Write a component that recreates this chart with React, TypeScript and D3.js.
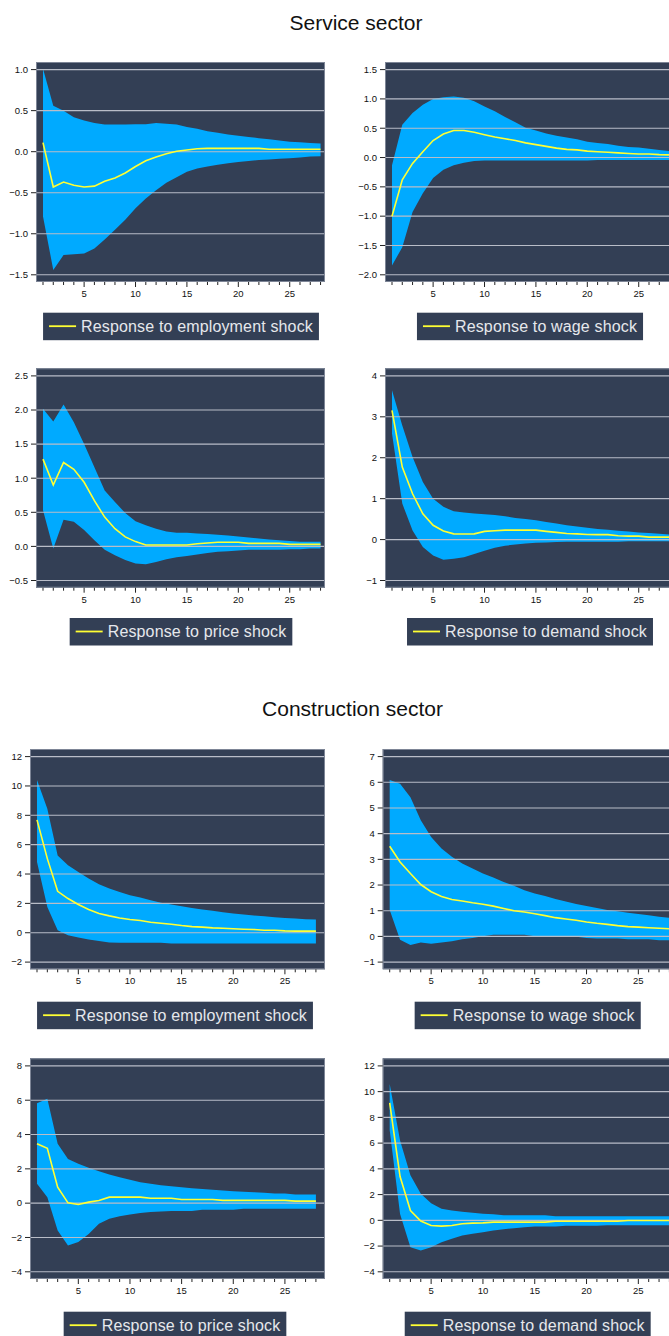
import React, { useEffect, useRef } from 'react';
import * as d3 from 'd3';

const periods = [1,2,3,4,5,6,7,8,9,10,11,12,13,14,15,16,17,18,19,20,21,22,23,24,25,26,27,28];
const xTickLabels = [5, 10, 15, 20, 25];

const sectionTitles = ['Service sector', 'Construction sector'];
const legendLabels = [
  'Response to employment shock',
  'Response to wage shock',
  'Response to price shock',
  'Response to demand shock',
];

// Service sector
const svcEmpMid = [0.11,-0.43,-0.37,-0.41,-0.43,-0.42,-0.36,-0.32,-0.26,-0.18,-0.11,-0.065,-0.025,0.005,0.02,0.035,0.04,0.04,0.04,0.04,0.04,0.04,0.03,0.03,0.03,0.03,0.03,0.03];
const svcEmpHi = [1.01,0.56,0.50,0.42,0.38,0.35,0.33,0.33,0.33,0.335,0.335,0.35,0.34,0.33,0.30,0.28,0.25,0.23,0.21,0.195,0.18,0.165,0.15,0.135,0.12,0.115,0.105,0.10];
const svcEmpLo = [-0.79,-1.44,-1.26,-1.25,-1.24,-1.18,-1.07,-0.95,-0.83,-0.69,-0.57,-0.47,-0.38,-0.31,-0.245,-0.205,-0.18,-0.16,-0.14,-0.125,-0.115,-0.10,-0.095,-0.085,-0.08,-0.07,-0.06,-0.055];
const svcEmpTicks = [-1.5,-1.0,-0.5,0.0,0.5,1.0];

const svcWageMid = [-1.0,-0.38,-0.10,0.10,0.29,0.40,0.46,0.46,0.43,0.39,0.35,0.32,0.29,0.25,0.22,0.19,0.16,0.14,0.13,0.11,0.10,0.09,0.08,0.07,0.06,0.06,0.05,0.045];
const svcWageHi = [-0.13,0.56,0.76,0.90,1.0,1.03,1.04,1.02,0.96,0.87,0.79,0.69,0.60,0.51,0.46,0.41,0.37,0.34,0.31,0.27,0.25,0.23,0.20,0.18,0.17,0.15,0.13,0.11];
const svcWageLo = [-1.84,-1.53,-0.93,-0.61,-0.35,-0.21,-0.13,-0.09,-0.06,-0.05,-0.05,-0.05,-0.05,-0.05,-0.05,-0.05,-0.05,-0.05,-0.05,-0.05,-0.04,-0.04,-0.04,-0.04,-0.04,-0.04,-0.04,-0.04];
const svcWageTicks = [-2.0,-1.5,-1.0,-0.5,0.0,0.5,1.0,1.5];

const svcPriceMid = [1.28,0.90,1.23,1.13,0.94,0.67,0.43,0.26,0.14,0.07,0.02,0.02,0.02,0.02,0.02,0.04,0.05,0.06,0.06,0.06,0.045,0.045,0.045,0.045,0.03,0.03,0.03,0.03];
const svcPriceHi = [2.02,1.83,2.08,1.82,1.50,1.16,0.82,0.65,0.49,0.37,0.31,0.26,0.22,0.20,0.20,0.19,0.18,0.17,0.16,0.145,0.13,0.115,0.10,0.09,0.08,0.07,0.07,0.07];
const svcPriceLo = [0.53,-0.03,0.39,0.36,0.24,0.09,-0.05,-0.13,-0.20,-0.25,-0.26,-0.23,-0.19,-0.16,-0.14,-0.12,-0.095,-0.08,-0.07,-0.06,-0.05,-0.05,-0.05,-0.05,-0.04,-0.04,-0.03,-0.03];
const svcPriceTicks = [-0.5,0.0,0.5,1.0,1.5,2.0,2.5];

const svcDemMid = [3.16,1.77,1.12,0.63,0.35,0.21,0.14,0.135,0.14,0.20,0.215,0.23,0.23,0.23,0.23,0.20,0.175,0.15,0.14,0.125,0.12,0.12,0.095,0.085,0.085,0.06,0.06,0.06];
const svcDemHi = [3.65,2.79,2.02,1.41,1.0,0.80,0.69,0.66,0.64,0.62,0.60,0.57,0.53,0.50,0.47,0.43,0.39,0.35,0.32,0.29,0.26,0.24,0.215,0.20,0.175,0.16,0.14,0.125];
const svcDemLo = [2.59,0.88,0.22,-0.18,-0.39,-0.49,-0.47,-0.43,-0.35,-0.27,-0.20,-0.15,-0.12,-0.095,-0.08,-0.07,-0.06,-0.05,-0.05,-0.05,-0.05,-0.05,-0.05,-0.04,-0.04,-0.04,-0.04,-0.04];
const svcDemTicks = [-1,0,1,2,3,4];

// Construction sector
const conEmpMid = [7.69,5.05,2.82,2.33,1.92,1.58,1.31,1.15,1.01,0.90,0.83,0.72,0.65,0.58,0.49,0.42,0.38,0.33,0.31,0.27,0.24,0.22,0.17,0.17,0.13,0.11,0.11,0.11];
const conEmpHi = [10.41,8.44,5.27,4.59,4.14,3.69,3.30,3.01,2.78,2.55,2.40,2.21,2.05,1.92,1.81,1.69,1.58,1.49,1.40,1.31,1.24,1.17,1.13,1.06,1.01,0.97,0.92,0.90];
const conEmpLo = [4.82,1.76,0.17,-0.17,-0.32,-0.46,-0.57,-0.66,-0.68,-0.68,-0.68,-0.68,-0.68,-0.73,-0.73,-0.73,-0.73,-0.73,-0.73,-0.73,-0.73,-0.73,-0.73,-0.73,-0.73,-0.73,-0.73,-0.73];
const conEmpTicks = [-2,0,2,4,6,8,10,12];

const conWageMid = [3.51,2.90,2.45,2.02,1.74,1.55,1.44,1.38,1.31,1.25,1.18,1.09,1.00,0.95,0.88,0.81,0.73,0.68,0.63,0.56,0.51,0.47,0.42,0.38,0.36,0.34,0.32,0.30];
const conWageHi = [6.09,5.94,5.42,4.52,3.87,3.42,3.10,2.84,2.64,2.45,2.29,2.12,1.97,1.80,1.67,1.57,1.46,1.36,1.26,1.18,1.11,1.03,0.98,0.92,0.87,0.82,0.77,0.72];
const conWageLo = [1.03,-0.13,-0.33,-0.24,-0.29,-0.24,-0.19,-0.11,-0.06,0.01,0.06,0.06,0.06,0.06,0.01,0.01,0.01,0.01,-0.01,-0.06,-0.08,-0.08,-0.08,-0.11,-0.11,-0.11,-0.15,-0.15];
const conWageTicks = [-1,0,1,2,3,4,5,6,7];

const conPriceMid = [3.46,3.20,0.93,0.02,-0.08,0.06,0.16,0.35,0.35,0.35,0.35,0.29,0.29,0.29,0.21,0.21,0.21,0.21,0.16,0.16,0.16,0.16,0.16,0.16,0.16,0.12,0.12,0.12];
const conPriceHi = [5.83,6.08,3.46,2.58,2.29,2.06,1.86,1.67,1.51,1.36,1.22,1.13,1.05,0.99,0.93,0.87,0.83,0.78,0.74,0.70,0.66,0.64,0.60,0.56,0.56,0.50,0.50,0.50];
const conPriceLo = [1.13,0.35,-1.59,-2.47,-2.27,-1.79,-1.20,-0.91,-0.76,-0.66,-0.58,-0.52,-0.49,-0.45,-0.45,-0.45,-0.39,-0.39,-0.39,-0.39,-0.33,-0.33,-0.33,-0.33,-0.33,-0.33,-0.33,-0.33];
const conPriceTicks = [-4,-2,0,2,4,6,8];

const conDemMid = [9.13,3.4,0.76,-0.06,-0.40,-0.45,-0.40,-0.27,-0.22,-0.20,-0.14,-0.14,-0.14,-0.14,-0.14,-0.14,-0.07,-0.07,-0.07,-0.07,-0.07,-0.07,-0.07,-0.01,-0.01,-0.01,-0.01,-0.01];
const conDemHi = [10.6,6.2,3.5,2.06,1.33,0.89,0.76,0.66,0.58,0.51,0.48,0.40,0.40,0.40,0.40,0.40,0.32,0.32,0.32,0.32,0.32,0.32,0.32,0.32,0.32,0.32,0.32,0.32];
const conDemLo = [7.0,0.5,-2.09,-2.34,-2.09,-1.70,-1.44,-1.18,-1.05,-0.92,-0.79,-0.69,-0.61,-0.53,-0.48,-0.48,-0.48,-0.43,-0.43,-0.43,-0.43,-0.38,-0.38,-0.38,-0.38,-0.38,-0.38,-0.38];
const conDemTicks = [-4,-2,0,2,4,6,8,10,12];

const BG = '#333f55';
const BAND = '#00aaff';
const LINE = '#ffff33';
const GRID = '#b9bdc8';
const FONT = '"Liberation Sans", Arial, Helvetica, sans-serif';

type Panel = {
  mid: number[]; hi: number[]; lo: number[]; ticks: number[]; decimals: number; label: string;
  left: number; top: number; bottom: number; width: number; step: number; legendTop: number;
};

const panels: Panel[] = [
  { mid: svcEmpMid, hi: svcEmpHi, lo: svcEmpLo, ticks: svcEmpTicks, decimals: 1, label: legendLabels[0], left: 36, top: 62, bottom: 282, width: 289, step: 10.28, legendTop: 312.7 },
  { mid: svcWageMid, hi: svcWageHi, lo: svcWageLo, ticks: svcWageTicks, decimals: 1, label: legendLabels[1], left: 385, top: 62, bottom: 282, width: 289, step: 10.28, legendTop: 312.7 },
  { mid: svcPriceMid, hi: svcPriceHi, lo: svcPriceLo, ticks: svcPriceTicks, decimals: 1, label: legendLabels[2], left: 36, top: 368.3, bottom: 587.7, width: 289, step: 10.28, legendTop: 618 },
  { mid: svcDemMid, hi: svcDemHi, lo: svcDemLo, ticks: svcDemTicks, decimals: 0, label: legendLabels[3], left: 385, top: 368.3, bottom: 587.7, width: 289, step: 10.28, legendTop: 618 },
  { mid: conEmpMid, hi: conEmpHi, lo: conEmpLo, ticks: conEmpTicks, decimals: 0, label: legendLabels[0], left: 30, top: 749, bottom: 969.3, width: 295, step: 10.33, legendTop: 1001.7 },
  { mid: conWageMid, hi: conWageHi, lo: conWageLo, ticks: conWageTicks, decimals: 0, label: legendLabels[1], left: 382.7, top: 749, bottom: 969.3, width: 295, step: 10.36, legendTop: 1001.7 },
  { mid: conPriceMid, hi: conPriceHi, lo: conPriceLo, ticks: conPriceTicks, decimals: 0, label: legendLabels[2], left: 30, top: 1058.3, bottom: 1279, width: 295, step: 10.33, legendTop: 1311.7 },
  { mid: conDemMid, hi: conDemHi, lo: conDemLo, ticks: conDemTicks, decimals: 0, label: legendLabels[3], left: 382.7, top: 1058.3, bottom: 1279, width: 295, step: 10.36, legendTop: 1311.7 },
];

export default function App() {
  const ref = useRef<SVGSVGElement>(null);

  useEffect(() => {
    const svg = d3.select(ref.current);
    svg.selectAll('*').remove();

    svg.append('rect').attr('width', 669).attr('height', 1336).attr('fill', '#ffffff');

    svg.append('text').attr('x', 356).attr('y', 30).attr('text-anchor', 'middle')
      .attr('font-family', FONT).attr('font-size', 21).attr('fill', '#111').text(sectionTitles[0]);
    svg.append('text').attr('x', 352.5).attr('y', 716).attr('text-anchor', 'middle')
      .attr('font-family', FONT).attr('font-size', 21).attr('fill', '#111').text(sectionTitles[1]);

    const defs = svg.append('defs');

    panels.forEach((p, i) => {
      const right = p.left + p.width;
      const x = d3.scaleLinear().domain([1, 28]).range([p.left + 7, p.left + 7 + 27 * p.step]);
      const yMin = d3.min(p.ticks) as number;
      const yMax = d3.max(p.ticks) as number;
      const y = d3.scaleLinear().domain([yMin, yMax]).range([p.bottom - 7.2, p.top + 7.6]);

      const g = svg.append('g');
      const clipId = `clip${i}`;
      defs.append('clipPath').attr('id', clipId).append('rect')
        .attr('x', p.left).attr('y', p.top).attr('width', p.width).attr('height', p.bottom - p.top);

      g.append('rect').attr('x', p.left).attr('y', p.top).attr('width', p.width)
        .attr('height', p.bottom - p.top).attr('fill', BG);

      const inner = g.append('g').attr('clip-path', `url(#${clipId})`);

      const rows = periods.map((t, k) => ({ t, m: p.mid[k], h: p.hi[k], l: p.lo[k] }));

      inner.append('path').datum(rows)
        .attr('d', d3.area<any>().x(d => x(d.t)).y0(d => y(d.l)).y1(d => y(d.h)))
        .attr('fill', BAND);

      inner.selectAll('line.grid').data(p.ticks).enter().append('line')
        .attr('x1', p.left).attr('x2', right)
        .attr('y1', d => y(d)).attr('y2', d => y(d))
        .attr('stroke', GRID).attr('stroke-width', 1.1);

      inner.append('path').datum(rows)
        .attr('d', d3.line<any>().x(d => x(d.t)).y(d => y(d.m)))
        .attr('fill', 'none').attr('stroke', LINE).attr('stroke-width', 1.6);

      g.append('rect').attr('x', p.left + 0.5).attr('y', p.top + 0.5).attr('width', p.width - 1)
        .attr('height', p.bottom - p.top - 1).attr('fill', 'none').attr('stroke', '#7d8596').attr('stroke-width', 1);

      // y axis
      const fmt = d3.format(`.${p.decimals}f`);
      p.ticks.forEach(v => {
        g.append('line').attr('x1', p.left - 5).attr('x2', p.left).attr('y1', y(v)).attr('y2', y(v))
          .attr('stroke', '#222').attr('stroke-width', 1);
        g.append('text').attr('x', p.left - 8).attr('y', y(v)).attr('dy', '0.35em')
          .attr('text-anchor', 'end').attr('font-family', FONT).attr('font-size', 9.5).attr('fill', '#111')
          .text(fmt(v));
      });

      // x axis
      periods.forEach(t => {
        const major = xTickLabels.includes(t);
        g.append('line').attr('x1', x(t)).attr('x2', x(t)).attr('y1', p.bottom).attr('y2', p.bottom + (major ? 5 : 3))
          .attr('stroke', '#222').attr('stroke-width', 1);
      });
      xTickLabels.forEach(t => {
        g.append('text').attr('x', x(t)).attr('y', p.bottom + 15).attr('text-anchor', 'middle')
          .attr('font-family', FONT).attr('font-size', 9.5).attr('fill', '#111').text(String(t));
      });

      // legend
      const lg = g.append('g');
      const rect = lg.append('rect').attr('y', p.legendTop).attr('height', 27.5).attr('fill', BG);
      const txt = lg.append('text').attr('y', p.legendTop + 19).attr('font-family', FONT)
        .attr('font-size', 16).attr('letter-spacing', 0.15).attr('fill', '#e6e8ec').text(p.label);
      const tw = (txt.node() as SVGTextElement).getComputedTextLength();
      const boxW = 38 + tw + 6;
      const cx = p.left + 145;
      const bx = cx - boxW / 2;
      rect.attr('x', bx).attr('width', boxW);
      txt.attr('x', bx + 38);
      lg.append('line').attr('x1', bx + 6).attr('x2', bx + 33)
        .attr('y1', p.legendTop + 13.5).attr('y2', p.legendTop + 13.5)
        .attr('stroke', LINE).attr('stroke-width', 1.8);
    });
  }, []);

  return (
    <svg ref={ref} width={669} height={1336}
      style={{ position: 'absolute', left: 0, top: 0, display: 'block' }} />
  );
}
